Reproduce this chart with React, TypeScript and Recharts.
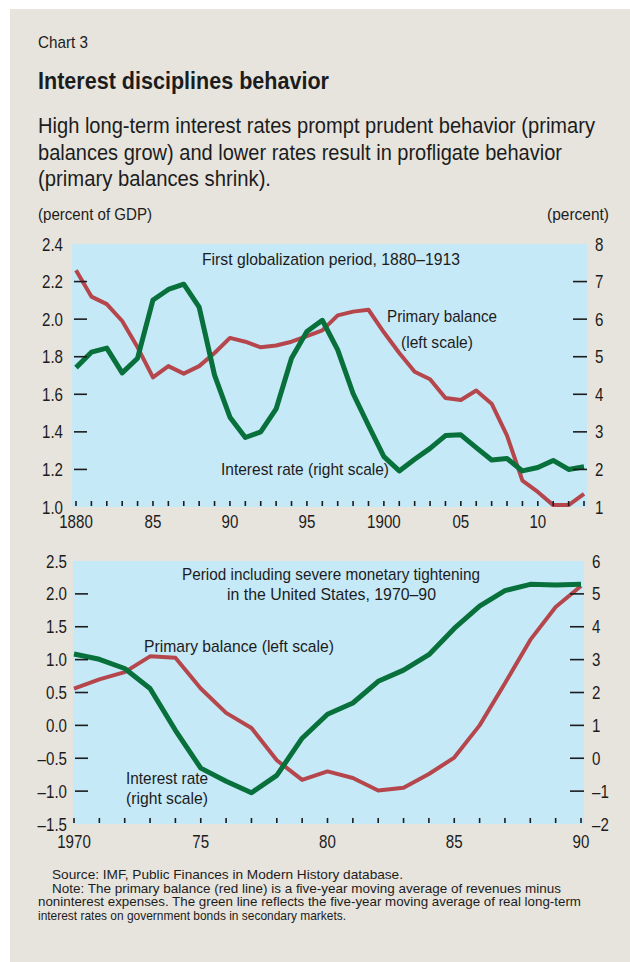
import React from 'react'
import { LineChart, Line, XAxis, YAxis, CartesianGrid } from 'recharts'

// first globalization period
const years1 = [1880, 1881, 1882, 1883, 1884, 1885, 1886, 1887, 1888, 1889, 1890, 1891, 1892, 1893, 1894, 1895, 1896, 1897, 1898, 1899, 1900, 1901, 1902, 1903, 1904, 1905, 1906, 1907, 1908, 1909, 1910, 1911, 1912, 1913]
const balance1 = [2.26, 2.12, 2.08, 1.99, 1.85, 1.69, 1.75, 1.71, 1.75, 1.82, 1.9, 1.88, 1.85, 1.86, 1.88, 1.91, 1.94, 2.02, 2.04, 2.05, 1.93, 1.82, 1.72, 1.68, 1.58, 1.57, 1.62, 1.55, 1.38, 1.14, 1.08, 1.01, 1.01, 1.07]
const rate1 = [4.71, 5.12, 5.23, 4.57, 4.96, 6.51, 6.79, 6.93, 6.32, 4.51, 3.39, 2.85, 3.0, 3.61, 4.96, 5.67, 5.97, 5.18, 4.02, 3.17, 2.34, 1.96, 2.27, 2.56, 2.9, 2.92, 2.58, 2.25, 2.29, 1.96, 2.05, 2.24, 2.0, 2.07]
const leftTicks1 = [1.0, 1.2, 1.4, 1.6, 1.8, 2.0, 2.2, 2.4]
const rightTicks1 = [1, 2, 3, 4, 5, 6, 7, 8]
const yearLabels1: Record<number, string> = { 1880: '1880', 1885: '85', 1890: '90', 1895: '95', 1900: '1900', 1905: '05', 1910: '10' }

// 1970-90
const years2 = [1970, 1971, 1972, 1973, 1974, 1975, 1976, 1977, 1978, 1979, 1980, 1981, 1982, 1983, 1984, 1985, 1986, 1987, 1988, 1989, 1990]
const balance2 = [0.56, 0.7, 0.81, 1.05, 1.03, 0.56, 0.19, -0.04, -0.53, -0.83, -0.7, -0.8, -0.99, -0.95, -0.74, -0.49, 0.0, 0.64, 1.3, 1.8, 2.12]
const rate2 = [3.17, 3.01, 2.73, 2.12, 0.85, -0.3, -0.7, -1.05, -0.52, 0.61, 1.34, 1.68, 2.34, 2.68, 3.15, 3.95, 4.63, 5.1, 5.29, 5.27, 5.29]
const leftTicks2 = [-1.5, -1.0, -0.5, 0.0, 0.5, 1.0, 1.5, 2.0, 2.5]
const rightTicks2 = [-2, -1, 0, 1, 2, 3, 4, 5, 6]
const yearLabels2: Record<number, string> = { 1970: '1970', 1975: '75', 1980: '80', 1985: '85', 1990: '90' }

const data1 = years1.map((year, i) => ({ year, balance: balance1[i], rate: rate1[i] }))
const data2 = years2.map((year, i) => ({ year, balance: balance2[i], rate: rate2[i] }))

const FONT = '"Liberation Sans", Arial, sans-serif'
const INK = '#1c1c1c'
const RED = '#b5474c'
const GREEN = '#07703b'
const SKY = '#c6e9f8'
const BEIGE = '#e7e4dd'
const SQUEEZE = 0.84

const fmt = (v: number, digits: number) => (v < 0 ? '\u2013' : '') + Math.abs(v).toFixed(digits)

// narrow text: regular face squeezed horizontally
const Narrow = (props: { x: number; y: number; size: number; anchor?: string; children: React.ReactNode }) => (
  <text
    transform={`translate(${props.x},${props.y}) scale(${SQUEEZE},1)`}
    textAnchor={props.anchor || 'start'}
    fontSize={props.size}
    fill={INK}
    fontFamily={FONT}
  >
    {props.children}
  </text>
)

interface PanelProps {
  data: { year: number; balance: number; rate: number }[]
  years: number[]
  yearLabels: Record<number, string>
  leftTicks: number[]
  rightTicks: number[]
  leftLabelX: number
  top: number
  plotLeft: number
  plotRight: number
  marginTop: number
  height: number
  xAxisHeight: number
  padLeft: number
  padRight: number
  labelGap: number
}

function Panel(p: PanelProps) {
  const plotBottom = p.height - p.xAxisHeight
  const lMin = p.leftTicks[0], lMax = p.leftTicks[p.leftTicks.length - 1]
  const rMin = p.rightTicks[0], rMax = p.rightTicks[p.rightTicks.length - 1]

  const leftTick = (t: any) => {
    const v = t.payload.value
    const edge = v === lMin || v === lMax
    return (
      <g>
        {!edge && <line x1={p.plotLeft + 2} x2={p.plotLeft + 15} y1={t.y} y2={t.y} stroke={INK} strokeWidth={1.6} />}
        <Narrow x={p.leftLabelX} y={t.y + 6.5} size={18} anchor="end">{fmt(v, 1)}</Narrow>
      </g>
    )
  }
  const rightTick = (t: any) => {
    const v = t.payload.value
    const edge = v === rMin || v === rMax
    return (
      <g>
        {!edge && <line x1={p.plotRight - 14} x2={p.plotRight} y1={t.y} y2={t.y} stroke={INK} strokeWidth={1.6} />}
        <Narrow x={p.plotRight + 8} y={t.y + 6.5} size={18}>{fmt(v, 0)}</Narrow>
      </g>
    )
  }
  const yearTick = (t: any) => {
    const v = t.payload.value
    return (
      <g>
        <line x1={t.x} x2={t.x} y1={plotBottom - 6} y2={plotBottom - 1} stroke={INK} strokeWidth={1.6} />
        {p.yearLabels[v] && (
          <Narrow x={t.x} y={plotBottom + p.labelGap} size={18} anchor="middle">{p.yearLabels[v]}</Narrow>
        )}
      </g>
    )
  }

  return (
    <div style={{ position: 'absolute', left: 0, top: p.top }}>
      <LineChart width={630} height={p.height} data={p.data} margin={{ top: p.marginTop, right: 0, bottom: 0, left: 0 }}>
        <CartesianGrid fill={SKY} fillOpacity={1} horizontal={false} vertical={false} />
        <XAxis
          dataKey="year"
          type="number"
          domain={[p.years[0], p.years[p.years.length - 1]]}
          ticks={p.years}
          interval={0}
          padding={{ left: p.padLeft, right: p.padRight }}
          height={p.xAxisHeight}
          axisLine={false}
          tickLine={false}
          tick={yearTick}
        />
        <YAxis
          yAxisId="left"
          orientation="left"
          width={p.plotLeft}
          domain={[lMin, lMax]}
          ticks={p.leftTicks}
          interval={0}
          axisLine={false}
          tickLine={false}
          tick={leftTick}
        />
        <YAxis
          yAxisId="right"
          orientation="right"
          width={630 - p.plotRight}
          domain={[rMin, rMax]}
          ticks={p.rightTicks}
          interval={0}
          axisLine={false}
          tickLine={false}
          tick={rightTick}
        />
        <Line yAxisId="left" dataKey="balance" stroke={RED} strokeWidth={4} dot={false} strokeLinejoin="round" isAnimationActive={false} />
        <Line yAxisId="right" dataKey="rate" stroke={GREEN} strokeWidth={5} dot={false} strokeLinejoin="round" isAnimationActive={false} />
      </LineChart>
    </div>
  )
}

// text squeezed like the narrow face, then fitted to the width it has in the reference
const T = (props: { x: number; y: number; size: number; w: number; bold?: boolean; children: React.ReactNode }) => (
  <text
    transform={`translate(${props.x},${props.y}) scale(${SQUEEZE},1)`}
    fontSize={props.size}
    fontWeight={props.bold ? 700 : 400}
    textLength={props.w / SQUEEZE}
    lengthAdjust="spacingAndGlyphs"
    fill={INK}
    fontFamily={FONT}
  >
    {props.children}
  </text>
)

export default function App() {
  return (
    <div style={{ position: 'absolute', left: 0, top: 0, width: 630, height: 962, background: '#fff', overflow: 'hidden' }}>
      <div style={{ position: 'absolute', left: 10, top: 9, width: 620, height: 953, background: BEIGE }} />
      <Panel
        data={data1} years={years1} yearLabels={yearLabels1}
        leftTicks={leftTicks1} rightTicks={rightTicks1}
        leftLabelX={63} top={230} plotLeft={72} plotRight={587}
        marginTop={14} height={310} xAxisHeight={33} padLeft={4} padRight={3} labelGap={21}
      />
      <Panel
        data={data2} years={years2} yearLabels={yearLabels2}
        leftTicks={leftTicks2} rightTicks={rightTicks2}
        leftLabelX={67} top={550} plotLeft={73} plotRight={584}
        marginTop={11} height={310} xAxisHeight={36} padLeft={1} padRight={3} labelGap={24}
      />
      <svg width={630} height={962} style={{ position: 'absolute', left: 0, top: 0, pointerEvents: 'none' }}>
        <T x={38} y={48} size={16} w={50}>Chart 3</T>
        <T x={38} y={89} size={24} w={291} bold>Interest disciplines behavior</T>
        <T x={38} y={133} size={22} w={557}>High long-term interest rates prompt prudent behavior (primary</T>
        <T x={38} y={159.5} size={22} w={524}>balances grow) and lower rates result in profligate behavior</T>
        <T x={38} y={186} size={22} w={233}>(primary balances shrink).</T>

        <T x={38} y={220} size={16} w={114}>(percent of GDP)</T>
        <T x={547} y={220} size={16} w={62}>(percent)</T>

        <T x={202} y={265} size={16} w={258}>First globalization period, 1880–1913</T>
        <T x={387} y={322} size={16} w={110}>Primary balance</T>
        <T x={401} y={348} size={16} w={72}>(left scale)</T>
        <T x={221} y={475} size={16} w={168}>Interest rate (right scale)</T>

        <T x={182} y={580} size={16} w={298}>Period including severe monetary tightening</T>
        <T x={227} y={600} size={16} w={209}>in the United States, 1970–90</T>
        <T x={144} y={652} size={16} w={190}>Primary balance (left scale)</T>
        <T x={126} y={784} size={16} w={82}>Interest rate</T>
        <T x={126} y={804} size={16} w={82}>(right scale)</T>

        <T x={52} y={879} size={12.5} w={351}>Source:  IMF, Public Finances in Modern History database.</T>
        <T x={52} y={892.5} size={12.5} w={509}>Note: The primary balance (red line) is a five-year moving average of revenues minus</T>
        <T x={38} y={906} size={12.5} w={543}>noninterest expenses. The green line reflects the five-year moving average of real long-term</T>
        <T x={38} y={919.5} size={12.5} w={308}>interest rates on government bonds in secondary markets.</T>
      </svg>
    </div>
  )
}
